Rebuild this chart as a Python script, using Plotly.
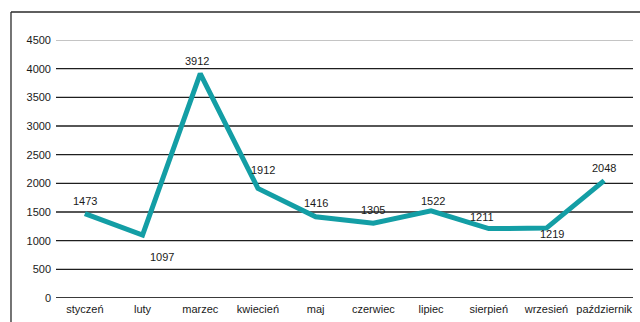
import plotly.graph_objects as go

months = ["styczeń", "luty", "marzec", "kwiecień", "maj", "czerwiec",
          "lipiec", "sierpień", "wrzesień", "październik"]
values = [1473, 1097, 3912, 1912, 1416, 1305, 1522, 1211, 1219, 2048]
y_ticks = [0, 500, 1000, 1500, 2000, 2500, 3000, 3500, 4000, 4500]

# label offsets (pixels) relative to each point
label_dx = [0, 19, -3, 5, 0, 0, 2, -7, 6, 0]
label_dy = [13, -22, 13, 18, 14, 13, 10, 12, -6, 13]

LINE = "#139ea5"
FONT = "Liberation Sans, Arial, sans-serif"

fig = go.Figure()
fig.add_trace(go.Scatter(
    x=list(range(len(months))), y=values, mode="lines",
    line=dict(color=LINE, width=5), cliponaxis=False, hoverinfo="skip",
))

for i, v in enumerate(values):
    fig.add_annotation(x=i, y=v, text=str(v), showarrow=False,
                       xshift=label_dx[i], yshift=label_dy[i],
                       font=dict(family=FONT, size=11, color="#1a1a1a"))

shapes = []
for t in y_ticks:
    if t == 0:
        col, w = "#3a3a3a", 2.2
    elif t == y_ticks[-1]:
        col, w = "#8a8a8a", 1.2
    else:
        col, w = "#1e1e1e", 1.3
    shapes.append(dict(type="line", xref="paper", yref="y", x0=0, x1=1,
                       y0=t, y1=t, line=dict(color=col, width=w), layer="below"))

# outer frame
shapes.append(dict(type="line", xref="paper", yref="paper", x0=-0.078, x1=-0.078,
                   y0=-0.2, y1=1.1085, line=dict(color="#2a2a2a", width=1.3)))
shapes.append(dict(type="line", xref="paper", yref="paper", x0=-0.078, x1=1.1,
                   y0=1.1085, y1=1.1085, line=dict(color="#2a2a2a", width=1.3)))

fig.update_layout(
    width=640, height=322,
    margin=dict(l=56, r=7, t=40, b=24),
    paper_bgcolor="white", plot_bgcolor="white",
    showlegend=False,
    shapes=shapes,
    font=dict(family=FONT, size=11, color="#1a1a1a"),
    xaxis=dict(tickmode="array", tickvals=list(range(len(months))), ticktext=months,
               range=[-0.5, len(months) - 0.5], showgrid=False, zeroline=False,
               showline=False, ticks="", ticklabelstandoff=3),
    yaxis=dict(tickmode="array", tickvals=y_ticks, range=[0, 4500],
               showgrid=False, zeroline=False, showline=False, ticks="",
               ticklabelstandoff=4),
)

fig.write_html("out.html")
